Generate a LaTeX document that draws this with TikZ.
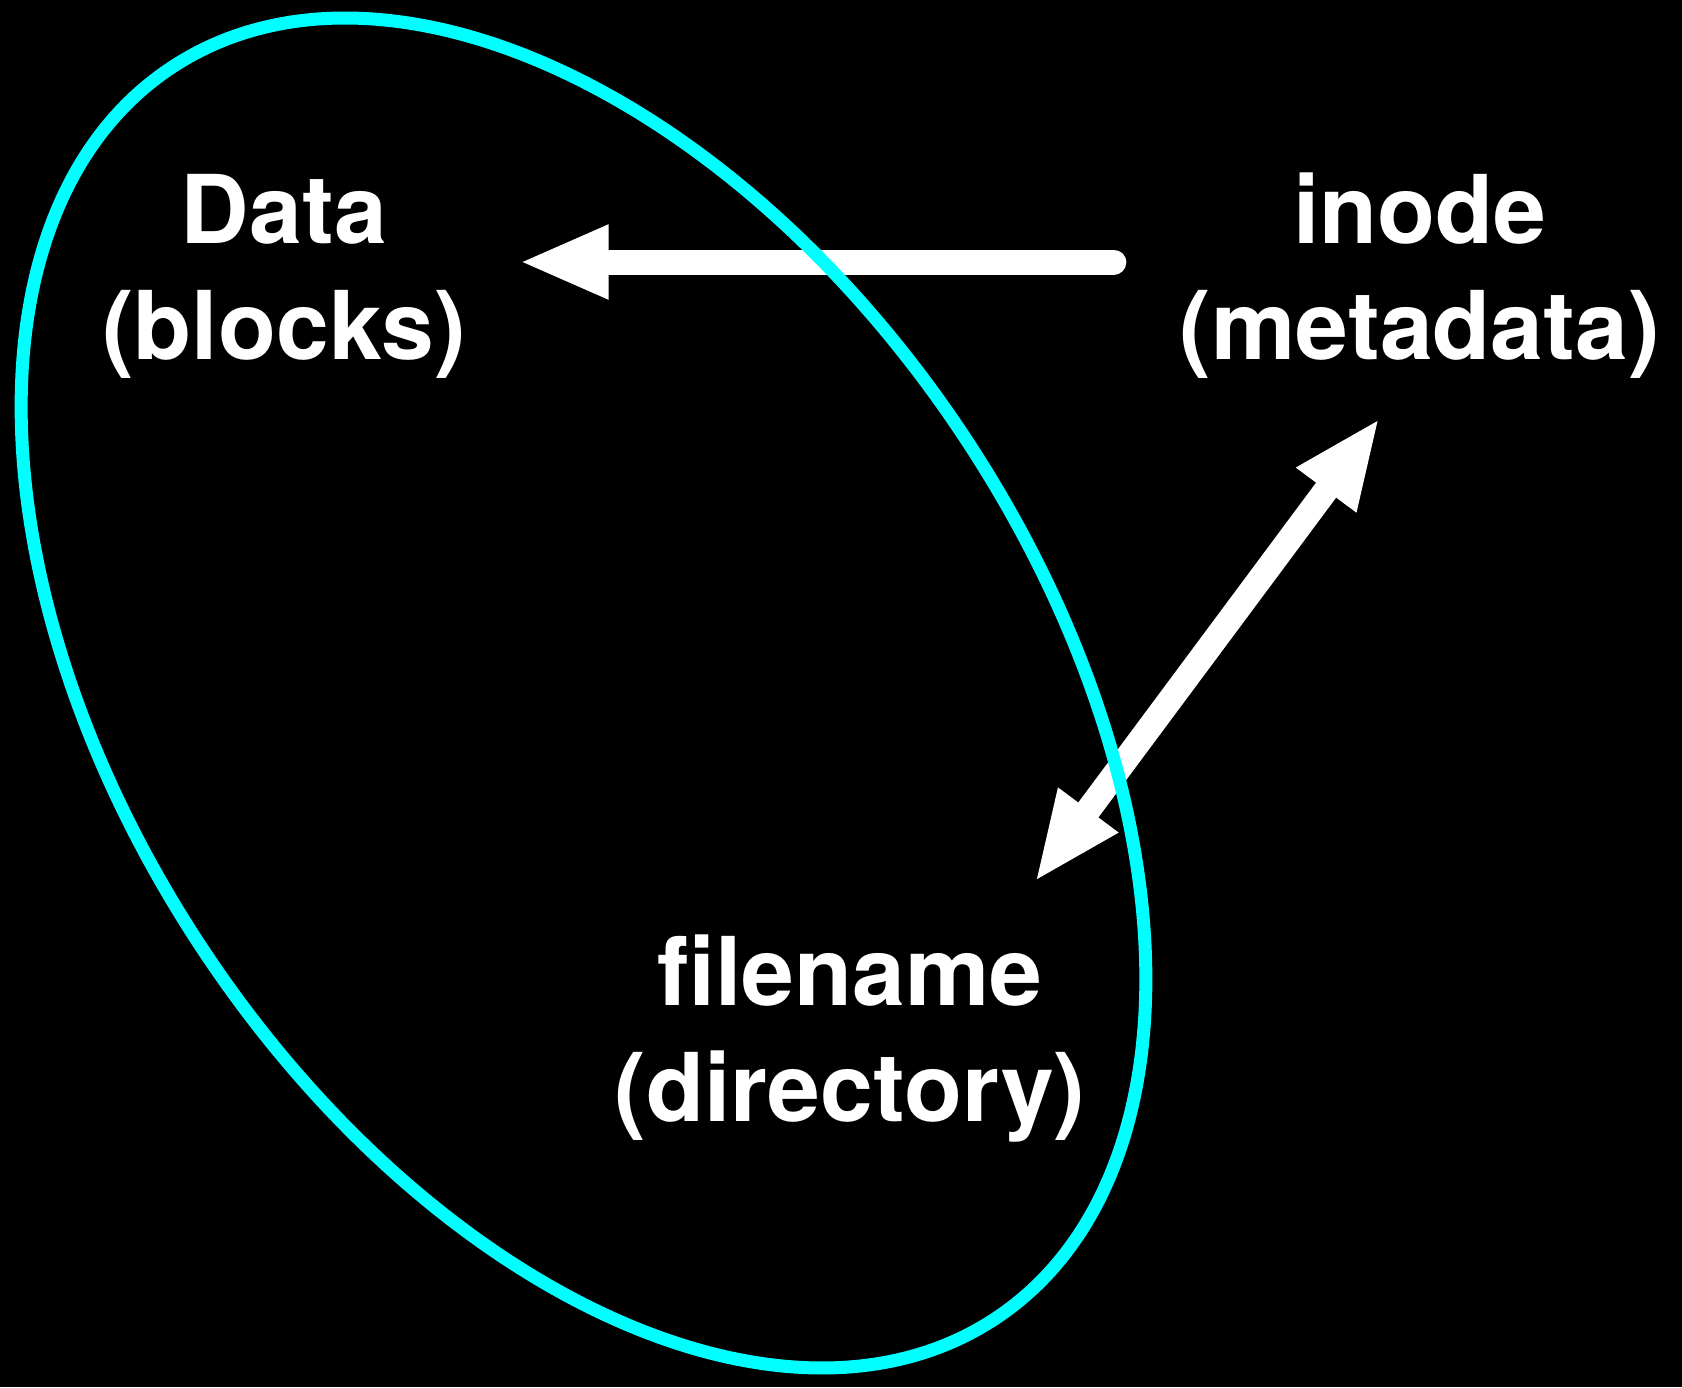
\documentclass[tikz,border=0pt]{standalone}
\usepackage{fontspec}
\setmainfont{TeX Gyre Heros}
\usetikzlibrary{arrows.meta,positioning}
\definecolor{ringcyan}{RGB}{0,255,255}

\begin{document}
\begin{tikzpicture}[
semithick,
textblock/.style={text=white, font=\bfseries\fontsize{27pt}{33pt}\selectfont, align=center, inner sep=0pt},
fat/.style={draw=white, line width=0.25cm, -{Triangle[length=0.9cm, width=0.68cm]}},
ring/.style={draw=ringcyan, line width=0.13cm}]

\fill[black] (0,0) rectangle (16.82,13.87);
\useasboundingbox (0,0) rectangle (16.82,13.87);

\node[textblock] 		(data) at (2.84,11.11)		{Data\\(blocks)};
\node[textblock]		(inode)[right of=data, xshift=10.36cm]		{inode\\(metadata)};
\node[textblock]		(filename)[below of=data, xshift=5.66cm, yshift=-6.63cm]		{filename\\(directory)};

\draw[fat, line cap=round, shorten <=0.65cm, shorten >=0.52cm]
 ([yshift=0.14cm]inode.west) -- ([yshift=0.14cm]data.east);
\draw[fat, {Triangle[length=0.9cm, width=0.68cm]}-{Triangle[length=0.9cm, width=0.68cm]}]
 ([shift={(-0.52,0.52)}]filename.north east) -- ([shift={(2.01,-0.38)}]inode.south west);

% the cyan ring sits on top of the arrows
\draw[ring, rotate around={-56.7:(5.835,6.94)}] (5.835,6.94) ellipse [x radius=7.49, y radius=4.59];

\end{tikzpicture}
\end{document}
